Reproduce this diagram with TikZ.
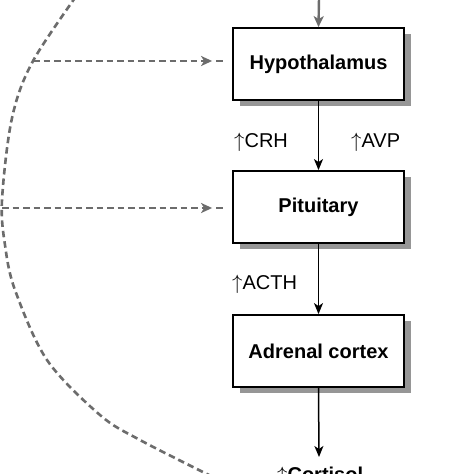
\documentclass[tikz,border=0pt]{standalone}
\usepackage{fontspec}
\setmainfont{Liberation Sans}
\usetikzlibrary{arrows.meta,shadows,calc}
\definecolor{dashgray}{RGB}{108,108,108}
\definecolor{shadowgray}{RGB}{150,150,150}
\newcommand{\upa}{\(\uparrow\)}
\begin{document}
\begin{tikzpicture}[x=1pt,y=-1pt,
  organ/.style={draw=black,line width=1.8pt,fill=white,minimum width=171pt,minimum height=72pt,inner sep=0pt,
    font=\fontsize{20}{24}\selectfont\bfseries,
    drop shadow={shadow xshift=7pt,shadow yshift=-6pt,fill=shadowgray,opacity=1}},
  hormone/.style={font=\fontsize{20}{24}\selectfont,inner sep=0pt,anchor=base west},
  flow/.style={draw=black,line width=1.5pt,-{Stealth[length=11pt,width=9pt,inset=3pt]}},
  grayflow/.style={draw=dashgray,line width=2.4pt,-{Stealth[length=11pt,width=10pt,inset=3pt]}},
  dashline/.style={draw=dashgray,line width=2.6pt,dash pattern=on 6.5pt off 4pt},
  dasharrow/.style={dashline,-{Stealth[length=11pt,width=10pt,inset=3pt]}}
]
\useasboundingbox (0,0) rectangle (474,474);
\clip (0,0) rectangle (474,474);
\fill[white] (0,0) rectangle (474,474);

\node[organ] (hyp) at (318.5,64) {Hypothalamus};
\node[organ] (pit) at (318.5,207) {Pituitary};
\node[organ] (adr) at (318.5,351) {Adrenal cortex};

\node[hormone] (crh) at (234,147) {\upa CRH};
\node[hormone] (avp) at (351,147) {\upa AVP};
\node[hormone] (acth) at (232,289) {\upa ACTH};
\node[font=\fontsize{20}{24}\selectfont\bfseries,inner xsep=0pt,inner ysep=0pt,anchor=base west] (cort) at (277,481) {\upa Cortisol};

\coordinate (top) at (319,-2);
\coordinate (cA) at (33,61);
\coordinate (cB) at (2,208);
\coordinate (cortin) at (319,457);

% feedback loop
\draw[dashline] plot[smooth,tension=0.55] coordinates
  {(82,-12) (33,61) (12,118) (2,200) (5,245) (15,290) (47,360) (100,415) (140,440) (215,478)};

\draw[dasharrow] (cA) -- ($(hyp.west |- cA)+(-20,0)$);
\draw[dashline] ($(hyp.west |- cA)+(-16,0)$) -- ($(hyp.west |- cA)+(-6,0)$);
\draw[dasharrow] (cB) -- ($(pit.west |- cB)+(-20,0)$);
\draw[dashline] ($(pit.west |- cB)+(-16,0)$) -- ($(pit.west |- cB)+(-6,0)$);

% main axis
\draw[grayflow] (top) -- (hyp.north);
\draw[flow] (hyp.south) -- (pit.north);
\draw[flow] (pit.south) -- (adr.north);
\draw[flow] (adr.south) -- (cortin);
\end{tikzpicture}
\end{document}
